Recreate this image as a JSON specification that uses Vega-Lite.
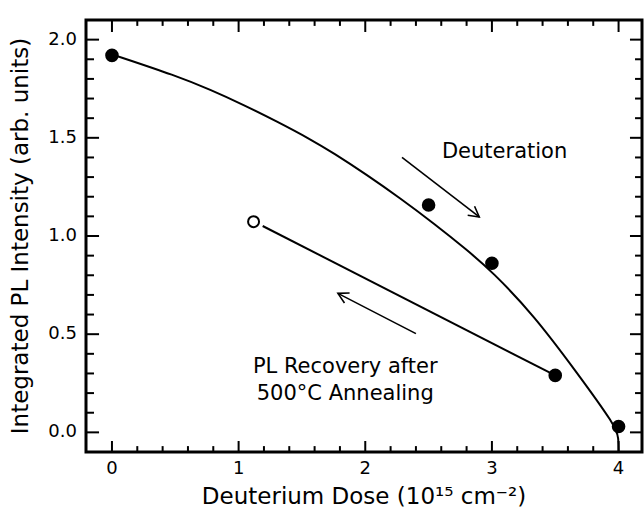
{
  "$schema": "https://vega.github.io/schema/vega-lite/v6.json",
  "width": 556,
  "height": 432,
  "autosize": {"type": "none"},
  "padding": {"left": 86, "top": 20, "right": 2, "bottom": 58},
  "background": "white",
  "config": {
    "view": {"stroke": "black", "strokeWidth": 3},
    "font": "DejaVu Sans"
  },
  "datasets": {
    "curve": [
      {"x": 0.0, "y": 1.925},
      {"x": 0.513, "y": 1.815},
      {"x": 0.776, "y": 1.745},
      {"x": 1.039, "y": 1.668},
      {"x": 1.303, "y": 1.583},
      {"x": 1.566, "y": 1.493},
      {"x": 1.75, "y": 1.422},
      {"x": 2.013, "y": 1.311},
      {"x": 2.276, "y": 1.192},
      {"x": 2.539, "y": 1.065},
      {"x": 2.803, "y": 0.929},
      {"x": 3.0, "y": 0.82},
      {"x": 3.333, "y": 0.595},
      {"x": 3.658, "y": 0.316},
      {"x": 3.98, "y": 0.03},
      {"x": 4.0, "y": -0.03},
      {"x": 4.0, "y": -0.1}
    ],
    "recovery": [
      {"x": 1.19, "y": 1.051},
      {"x": 3.5, "y": 0.29}
    ],
    "deuterated": [
      {"x": 0.0, "y": 1.92},
      {"x": 2.5, "y": 1.158},
      {"x": 3.0, "y": 0.861},
      {"x": 3.5, "y": 0.29},
      {"x": 4.0, "y": 0.03}
    ],
    "annealed": [
      {"x": 1.118, "y": 1.073}
    ],
    "arrowDeut": [
      {"x": 2.29, "y": 1.40, "x2": 2.90, "y2": 1.097}
    ],
    "arrowRec": [
      {"x": 2.40, "y": 0.503, "x2": 1.784, "y2": 0.708}
    ],
    "labelDeut": [
      {"x": 3.1, "y": 1.43, "label": "Deuteration"}
    ],
    "labelRec": [
      {"x": 1.842, "y": 0.333, "label": "PL Recovery after"},
      {"x": 1.842, "y": 0.197, "label": "500°C Annealing"}
    ],
    "xMajor": [{"x": 0, "label": "0"}, {"x": 1, "label": "1"}, {"x": 2, "label": "2"}, {"x": 3, "label": "3"}, {"x": 4, "label": "4"}],
    "xMinor": [{"x": 0.2}, {"x": 0.4}, {"x": 0.6}, {"x": 0.8}, {"x": 1.2}, {"x": 1.4}, {"x": 1.6}, {"x": 1.8}, {"x": 2.2}, {"x": 2.4}, {"x": 2.6}, {"x": 2.8}, {"x": 3.2}, {"x": 3.4}, {"x": 3.6}, {"x": 3.8}],
    "yMajor": [{"y": 0, "label": "0.0"}, {"y": 0.5, "label": "0.5"}, {"y": 1.0, "label": "1.0"}, {"y": 1.5, "label": "1.5"}, {"y": 2.0, "label": "2.0"}],
    "yMinor": [{"y": 0.1}, {"y": 0.2}, {"y": 0.3}, {"y": 0.4}, {"y": 0.6}, {"y": 0.7}, {"y": 0.8}, {"y": 0.9}, {"y": 1.1}, {"y": 1.2}, {"y": 1.3}, {"y": 1.4}, {"y": 1.6}, {"y": 1.7}, {"y": 1.8}, {"y": 1.9}],
    "xTitle": [{"x": 1.99, "y": -0.329, "label": "Deuterium Dose (10¹⁵ cm⁻²)"}],
    "yTitle": [{"x": -0.718, "y": 1.0, "label": "Integrated PL Intensity (arb. units)"}]
  },
  "layer": [
    {
      "data": {"name": "curve"},
      "mark": {"type": "line", "interpolate": "basis", "color": "black", "strokeWidth": 2},
      "encoding": {
        "x": {"field": "x", "type": "quantitative", "scale": {"domain": [-0.205, 4.185], "nice": false, "zero": false}, "axis": null},
        "y": {"field": "y", "type": "quantitative", "scale": {"domain": [-0.1, 2.1], "nice": false, "zero": false}, "axis": null}
      }
    },
    {
      "data": {"name": "xMajor"},
      "mark": {"type": "rule", "color": "black", "strokeWidth": 2},
      "encoding": {
        "x": {"field": "x", "type": "quantitative", "axis": null},
        "y": {"datum": -0.1, "type": "quantitative", "axis": null},
        "y2": {"datum": -0.044}
      }
    },
    {
      "data": {"name": "xMajor"},
      "mark": {"type": "rule", "color": "black", "strokeWidth": 2},
      "encoding": {
        "x": {"field": "x", "type": "quantitative", "axis": null},
        "y": {"datum": 2.1, "type": "quantitative", "axis": null},
        "y2": {"datum": 2.039}
      }
    },
    {
      "data": {"name": "xMinor"},
      "mark": {"type": "rule", "color": "black", "strokeWidth": 2},
      "encoding": {
        "x": {"field": "x", "type": "quantitative", "axis": null},
        "y": {"datum": -0.1, "type": "quantitative", "axis": null},
        "y2": {"datum": -0.07}
      }
    },
    {
      "data": {"name": "xMinor"},
      "mark": {"type": "rule", "color": "black", "strokeWidth": 2},
      "encoding": {
        "x": {"field": "x", "type": "quantitative", "axis": null},
        "y": {"datum": 2.1, "type": "quantitative", "axis": null},
        "y2": {"datum": 2.07}
      }
    },
    {
      "data": {"name": "yMajor"},
      "mark": {"type": "rule", "color": "black", "strokeWidth": 2},
      "encoding": {
        "y": {"field": "y", "type": "quantitative", "axis": null},
        "x": {"datum": -0.205, "type": "quantitative", "axis": null},
        "x2": {"datum": -0.102}
      }
    },
    {
      "data": {"name": "yMajor"},
      "mark": {"type": "rule", "color": "black", "strokeWidth": 2},
      "encoding": {
        "y": {"field": "y", "type": "quantitative", "axis": null},
        "x": {"datum": 4.185, "type": "quantitative", "axis": null},
        "x2": {"datum": 4.09}
      }
    },
    {
      "data": {"name": "yMinor"},
      "mark": {"type": "rule", "color": "black", "strokeWidth": 2},
      "encoding": {
        "y": {"field": "y", "type": "quantitative", "axis": null},
        "x": {"datum": -0.205, "type": "quantitative", "axis": null},
        "x2": {"datum": -0.142}
      }
    },
    {
      "data": {"name": "yMinor"},
      "mark": {"type": "rule", "color": "black", "strokeWidth": 2},
      "encoding": {
        "y": {"field": "y", "type": "quantitative", "axis": null},
        "x": {"datum": 4.185, "type": "quantitative", "axis": null},
        "x2": {"datum": 4.13}
      }
    },
    {
      "data": {"name": "xMajor"},
      "mark": {"type": "text", "fontSize": 18, "font": "DejaVu Sans", "align": "center", "baseline": "middle", "color": "black"},
      "encoding": {
        "x": {"field": "x", "type": "quantitative", "axis": null},
        "y": {"datum": -0.186, "type": "quantitative", "axis": null},
        "text": {"field": "label"}
      }
    },
    {
      "data": {"name": "yMajor"},
      "mark": {"type": "text", "fontSize": 18, "font": "DejaVu Sans", "align": "right", "baseline": "middle", "color": "black"},
      "encoding": {
        "y": {"field": "y", "type": "quantitative", "axis": null},
        "x": {"datum": -0.276, "type": "quantitative", "axis": null},
        "text": {"field": "label"}
      }
    },
    {
      "data": {"name": "xTitle"},
      "mark": {"type": "text", "fontSize": 23, "font": "DejaVu Sans", "align": "center", "baseline": "middle", "color": "black"},
      "encoding": {
        "x": {"field": "x", "type": "quantitative", "axis": null},
        "y": {"field": "y", "type": "quantitative", "axis": null},
        "text": {"field": "label"}
      }
    },
    {
      "data": {"name": "yTitle"},
      "mark": {"type": "text", "fontSize": 23, "font": "DejaVu Sans", "align": "center", "baseline": "middle", "angle": 270, "color": "black"},
      "encoding": {
        "x": {"field": "x", "type": "quantitative", "axis": null},
        "y": {"field": "y", "type": "quantitative", "axis": null},
        "text": {"field": "label"}
      }
    },
    {
      "data": {"name": "recovery"},
      "mark": {"type": "line", "color": "black", "strokeWidth": 2},
      "encoding": {
        "x": {"field": "x", "type": "quantitative", "axis": null},
        "y": {"field": "y", "type": "quantitative", "axis": null}
      }
    },
    {
      "data": {"name": "deuterated"},
      "mark": {"type": "point", "shape": "circle", "filled": true, "color": "black", "size": 185, "opacity": 1},
      "encoding": {
        "x": {"field": "x", "type": "quantitative", "axis": null},
        "y": {"field": "y", "type": "quantitative", "axis": null}
      }
    },
    {
      "data": {"name": "annealed"},
      "mark": {"type": "point", "shape": "circle", "filled": false, "color": "black", "size": 120, "strokeWidth": 2, "opacity": 1},
      "encoding": {
        "x": {"field": "x", "type": "quantitative", "axis": null},
        "y": {"field": "y", "type": "quantitative", "axis": null}
      }
    },
    {
      "data": {"name": "labelDeut"},
      "mark": {"type": "text", "fontSize": 21, "font": "DejaVu Sans", "align": "center", "baseline": "middle", "color": "black"},
      "encoding": {
        "x": {"field": "x", "type": "quantitative", "axis": null},
        "y": {"field": "y", "type": "quantitative", "axis": null},
        "text": {"field": "label"}
      }
    },
    {
      "data": {"name": "labelRec"},
      "mark": {"type": "text", "fontSize": 21, "font": "DejaVu Sans", "align": "center", "baseline": "middle", "color": "black"},
      "encoding": {
        "x": {"field": "x", "type": "quantitative", "axis": null},
        "y": {"field": "y", "type": "quantitative", "axis": null},
        "text": {"field": "label"}
      }
    },
    {
      "data": {"name": "arrowDeut"},
      "mark": {"type": "rule", "color": "black", "strokeWidth": 1.6},
      "encoding": {
        "x": {"field": "x", "type": "quantitative", "axis": null},
        "y": {"field": "y", "type": "quantitative", "axis": null},
        "x2": {"field": "x2"},
        "y2": {"field": "y2"}
      }
    },
    {
      "data": {"name": "arrowDeut"},
      "mark": {"type": "point", "shape": "M-1,-0.55L0,0L-1,0.55", "filled": false, "color": "black", "strokeWidth": 1.6, "size": 420, "opacity": 1, "angle": 37.5},
      "encoding": {
        "x": {"field": "x2", "type": "quantitative", "axis": null},
        "y": {"field": "y2", "type": "quantitative", "axis": null}
      }
    },
    {
      "data": {"name": "arrowRec"},
      "mark": {"type": "rule", "color": "black", "strokeWidth": 1.6},
      "encoding": {
        "x": {"field": "x", "type": "quantitative", "axis": null},
        "y": {"field": "y", "type": "quantitative", "axis": null},
        "x2": {"field": "x2"},
        "y2": {"field": "y2"}
      }
    },
    {
      "data": {"name": "arrowRec"},
      "mark": {"type": "point", "shape": "M-1,-0.55L0,0L-1,0.55", "filled": false, "color": "black", "strokeWidth": 1.6, "size": 420, "opacity": 1, "angle": 207},
      "encoding": {
        "x": {"field": "x2", "type": "quantitative", "axis": null},
        "y": {"field": "y2", "type": "quantitative", "axis": null}
      }
    }
  ]
}
